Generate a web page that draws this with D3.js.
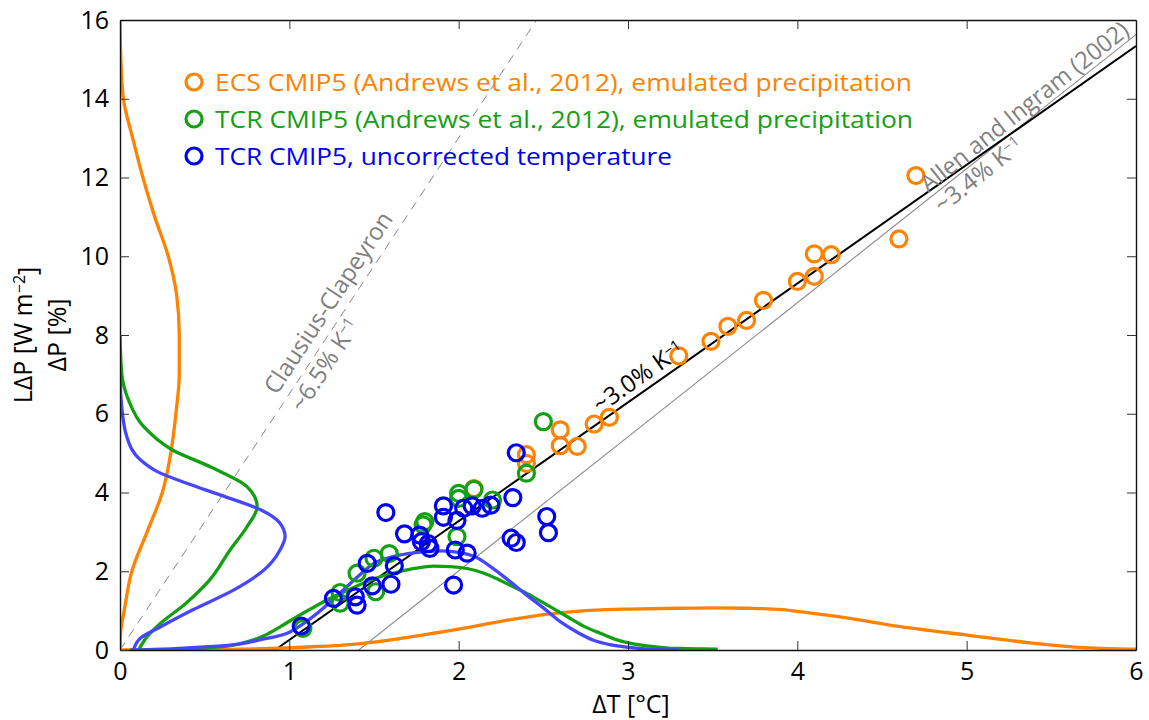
<!DOCTYPE html>
<html><head><meta charset="utf-8">
<script src="https://cdn.jsdelivr.net/npm/d3@7"></script>
<style>
body{margin:0;background:#fff;}
svg{font-family:"Open Sans",sans-serif;}
</style></head>
<body><svg id="c" width="1149" height="720"></svg>
<script>
// ---------- data ----------
const xTicks = [0,1,2,3,4,5,6];
const yTicks = [0,2,4,6,8,10,12,14,16];

// ECS CMIP5 emulated precipitation (orange)
const ecsT = [4.70,4.60,4.20,4.10,4.10,4.00,3.80,3.70,3.59,3.49,3.30,2.89,2.80,2.60,2.60,2.70,2.40,2.40,2.09];
const ecsP = [12.05,10.44,10.04,10.06,9.49,9.36,8.88,8.37,8.22,7.84,7.47,5.91,5.74,5.59,5.19,5.17,4.96,4.74,4.10];
// TCR CMIP5 emulated precipitation (green)
const tcrT = [2.50,2.40,2.09,2.00,2.00,2.20,1.99,1.80,1.79,1.59,1.50,1.40,1.30,1.30,1.51,1.08];
const tcrP = [5.80,4.49,4.08,3.98,3.85,3.81,2.88,3.26,3.18,2.45,2.33,1.95,1.46,1.19,1.48,0.55];
// TCR CMIP5 uncorrected temperature (blue)
const uncT = [2.34,2.32,2.52,2.53,2.31,2.34,1.91,1.91,1.99,2.03,2.08,2.14,2.19,1.57,1.68,1.77,1.78,1.82,1.83,1.98,2.05,1.97,1.46,1.62,1.60,1.49,1.39,1.40,1.26,1.07];
const uncP = [5.01,3.87,3.39,2.98,2.84,2.73,3.66,3.37,3.29,3.60,3.66,3.60,3.68,3.49,2.95,2.92,2.75,2.70,2.58,2.54,2.46,1.65,2.20,2.14,1.67,1.63,1.35,1.14,1.31,0.61];

// density curves along the temperature axis (height in plot units)
const ecsDensT = [0,0.3,0.6,0.9,1.06,1.3,1.5,1.65,1.8,2.0,2.24,2.5,2.84,3.0,3.3,3.5,3.72,3.9,4.0,4.3,4.6,5.0,5.4,5.7,6.0];
const ecsDensTv = [0,0.005,0.015,0.04,0.07,0.12,0.2,0.29,0.39,0.53,0.72,0.9,1.02,1.04,1.06,1.07,1.06,1.03,0.98,0.81,0.6,0.38,0.17,0.06,0.02];
const tcrDensT = [0.1,0.3,0.5,0.7,0.85,0.95,1.05,1.15,1.26,1.36,1.46,1.55,1.65,1.75,1.85,1.95,2.05,2.15,2.24,2.34,2.44,2.54,2.64,2.74,2.84,2.94,3.04,3.14,3.24,3.34,3.44,3.53];
const tcrDensTv = [0,0.01,0.05,0.15,0.36,0.6,0.86,1.1,1.35,1.55,1.74,1.88,1.99,2.08,2.13,2.12,2.07,1.95,1.78,1.57,1.35,1.1,0.85,0.6,0.42,0.25,0.15,0.09,0.05,0.035,0.025,0.02];
const uncDensT = [0.06,0.3,0.5,0.7,0.85,1.0,1.1,1.2,1.3,1.4,1.5,1.6,1.7,1.8,1.9,2.0,2.1,2.2,2.3,2.4,2.5,2.6,2.7,2.8,2.9,3.0,3.1,3.2,3.3];
const uncDensTv = [0,0.03,0.08,0.15,0.28,0.45,0.72,1.06,1.45,1.85,2.2,2.36,2.45,2.5,2.52,2.48,2.36,2.08,1.75,1.4,1.07,0.72,0.45,0.24,0.13,0.07,0.03,0.01,0];

// density curves along the precipitation axis (width in plot units)
const ecsDensP = [0,0.5,1,2,3,4,5,6,7,8,9,10,11,12,13,14,15,16];
const ecsDensPv = [0,0.005,0.025,0.07,0.16,0.25,0.3,0.33,0.35,0.35,0.335,0.285,0.205,0.135,0.075,0.02,0.005,0];
const tcrDensP = [0,0.34,0.68,1.19,1.78,2.54,3.13,3.64,4.15,4.62,5.08,5.67,6.35,7.03,8];
const tcrDensPv = [0.11,0.16,0.24,0.39,0.53,0.65,0.75,0.81,0.75,0.55,0.31,0.14,0.05,0.01,0];
const uncDensP = [0,0.3,0.59,1.02,1.52,2.03,2.54,2.88,3.22,3.56,3.94,4.24,4.53,4.83,5.42,6.18,7];
const uncDensPv = [0.08,0.12,0.24,0.43,0.67,0.85,0.945,0.975,0.945,0.83,0.59,0.39,0.22,0.12,0.04,0.01,0];

// reference lines
const ccLine = [[0,0],[2.46,16]];        // Clausius-Clapeyron ~6.5%/K
const fitLine = [[0.915,0],[6,15.34]];   // ~3.0%/K
const aiLine = [[1.41,0],[6,15.63]];     // Allen and Ingram ~3.4%/K

const legendLabels = ["ECS CMIP5 (Andrews et al., 2012), emulated precipitation",
                      "TCR CMIP5 (Andrews et al., 2012), emulated precipitation",
                      "TCR CMIP5, uncorrected temperature"];

// ---------- drawing ----------
const C_OR = "#ff8200", C_GR = "#14a014", C_BL = "#0000f5", C_BLc = "#4646ff", C_GRc="#12a012";
const svg = d3.select("#c");
const x = d3.scaleLinear().domain([0,6]).range([120,1136]);
const y = d3.scaleLinear().domain([0,16]).range([650,20]);

const plot = svg.append("g");
plot.append("clipPath").attr("id","clip").append("rect")
  .attr("x",120).attr("y",20).attr("width",1016).attr("height",630);
const g = plot.append("g").attr("clip-path","url(#clip)");

// reference lines
const ln = d3.line().x(d=>x(d[0])).y(d=>y(d[1]));
g.append("path").attr("d",ln(ccLine)).attr("stroke","#8a8a8a").attr("stroke-width",1)
  .attr("stroke-dasharray","9,7").attr("fill","none");
g.append("path").attr("d",ln(aiLine)).attr("stroke","#8a8a8a").attr("stroke-width",1.1).attr("fill","none");
g.append("path").attr("d",ln(fitLine)).attr("stroke","#000").attr("stroke-width",2).attr("fill","none");

// density curves
const hLine = d3.line().x(d=>x(d[0])).y(d=>y(d[1])).curve(d3.curveMonotoneX);
const vLine = d3.line().x(d=>x(d[1])).y(d=>y(d[0])).curve(d3.curveMonotoneY);
function hc(t,v,col){ g.append("path").attr("d",hLine(t.map((d,i)=>[d,v[i]]))).attr("stroke",col)
  .attr("stroke-width",3.3).attr("fill","none"); }
function vc(p,v,col){ g.append("path").attr("d",vLine(p.map((d,i)=>[d,v[i]]))).attr("stroke",col)
  .attr("stroke-width",3.3).attr("fill","none"); }
hc(ecsDensT,ecsDensTv,C_OR);
vc(ecsDensP,ecsDensPv,C_OR);
hc(tcrDensT,tcrDensTv,C_GRc);
vc(tcrDensP,tcrDensPv,C_GRc);
hc(uncDensT,uncDensTv,C_BLc);
vc(uncDensP,uncDensPv,C_BLc);

// points
function pts(T,P,col){
  g.append("g").selectAll("circle").data(T.map((d,i)=>[d,P[i]])).join("circle")
   .attr("cx",d=>x(d[0])).attr("cy",d=>y(d[1])).attr("r",8)
   .attr("fill","none").attr("stroke",col).attr("stroke-width",3.2);
}
pts(ecsT,ecsP,C_OR);
pts(tcrT,tcrP,C_GR);
pts(uncT,uncP,C_BL);

// axes
const fs = 25;
const ax = svg.append("g").attr("transform","translate(0,650)")
  .call(d3.axisBottom(x).tickValues(xTicks).tickFormat(d3.format("d")).tickSizeInner(-9).tickSizeOuter(0).tickPadding(12));
const ay = svg.append("g").attr("transform","translate(120,0)")
  .call(d3.axisLeft(y).tickValues(yTicks).tickFormat(d3.format("d")).tickSizeInner(-9).tickSizeOuter(0).tickPadding(11));
const at = svg.append("g").attr("transform","translate(0,20)")
  .call(d3.axisTop(x).tickValues(xTicks.slice(1,-1)).tickFormat("").tickSizeInner(-9).tickSizeOuter(0));
const ar = svg.append("g").attr("transform","translate(1136,0)")
  .call(d3.axisRight(y).tickValues(yTicks.slice(1,-1)).tickFormat("").tickSizeInner(-9).tickSizeOuter(0));
[ax,ay,at,ar].forEach(a=>{
  a.selectAll("text").attr("font-size",fs).attr("font-family","Open Sans").attr("fill","#000");
  a.select(".domain").attr("stroke","#111").attr("stroke-width",1.4);
  a.selectAll(".tick line").attr("stroke","#333").attr("stroke-width",1);
});

// axis labels
svg.append("text").attr("x",631).attr("y",713).attr("text-anchor","middle").attr("font-size",fs)
  .text("ΔT [°C]");
const yl = svg.append("text").attr("transform","translate(32,335) rotate(-90)").attr("text-anchor","middle").attr("font-size",fs);
yl.append("tspan").text("LΔP [W m");
yl.append("tspan").attr("dy","-0.45em").attr("font-size",16).text("−2");
yl.append("tspan").attr("dy","0.45em").text("]");
svg.append("text").attr("transform","translate(66,335) rotate(-90)").attr("text-anchor","middle").attr("font-size",fs)
  .text("ΔP [%]");

// legend
const legCols = [C_OR,C_GR,C_BL];
const legW = [697,698,457];
legendLabels.forEach((t,i)=>{
  const yy = 82 + i*37;
  svg.append("circle").attr("cx",194).attr("cy",yy).attr("r",8).attr("fill","none")
     .attr("stroke",legCols[i]).attr("stroke-width",3.2);
  svg.append("text").attr("x",215).attr("y",yy+9).attr("font-size",24).attr("fill",legCols[i])
     .attr("textLength",legW[i]).attr("lengthAdjust","spacingAndGlyphs").text(t);
});

// annotations along lines
function ang(l){ return -Math.atan((y(l[0][1])-y(l[1][1]))/(x(l[1][0])-x(l[0][0])))*180/Math.PI; }
function note(cx,cy,a,col,main,sup,fsz,len){
  const t = svg.append("text").attr("transform",`translate(${x(cx)},${y(cy)}) rotate(${a})`)
    .attr("text-anchor","middle").attr("dy","0.35em").attr("font-size",fsz).attr("fill",col);
  if(len) t.attr("textLength",len).attr("lengthAdjust","spacingAndGlyphs");
  t.append("tspan").text(main);
  if(sup){ t.append("tspan").attr("dy","-0.5em").attr("font-size",fsz*0.62).text(sup); }
}
note(3.06,6.94,ang(fitLine),"#000","~3.0% K","−1",24);
note(5.34,13.8,ang(aiLine),"#808080","Allen and Ingram (2002)",null,24,258);
note(5.07,12.07,ang(aiLine),"#808080","~3.4% K","−1",24);
note(1.23,8.82,ang(ccLine),"#808080","Clausius-Clapeyron",null,24,212);
note(1.21,7.24,ang(ccLine),"#808080","~6.5% K","−1",24);
</script></body></html>
